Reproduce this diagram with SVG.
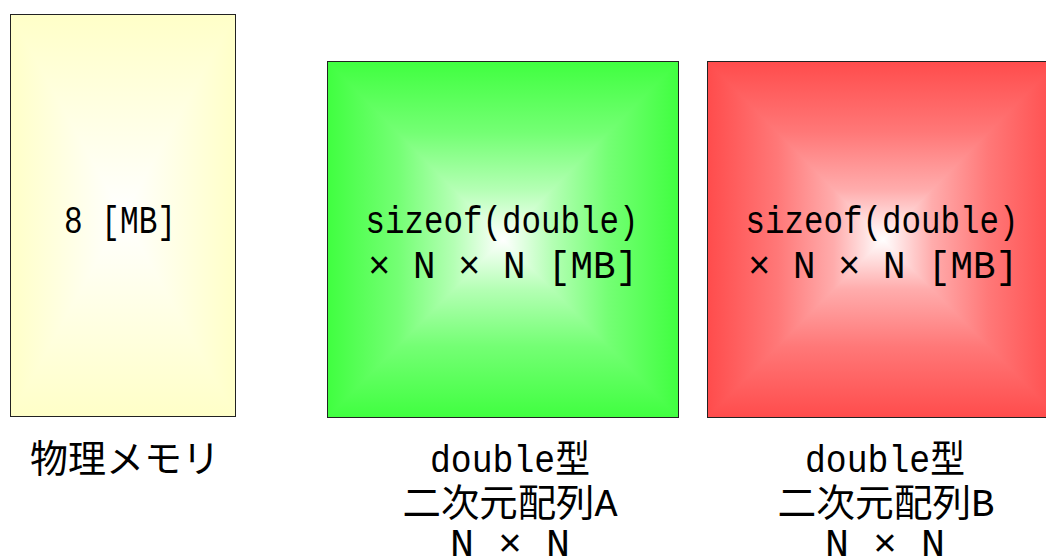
<svg xmlns="http://www.w3.org/2000/svg" width="1046" height="558" viewBox="0 0 1046 558">
<style>
text{font-family:"Liberation Mono","Noto Sans CJK JP",monospace;font-size:38px;fill:#000;text-anchor:middle}
.box{stroke:#222;stroke-width:1}
</style>
<defs>
<linearGradient id="yV" x1="0" y1="0" x2="0" y2="1"><stop offset="0" stop-color="#ffffc8"/><stop offset="0.5" stop-color="#ffffff"/><stop offset="1" stop-color="#ffffc8"/></linearGradient>
<linearGradient id="yH" x1="0" y1="0" x2="1" y2="0"><stop offset="0" stop-color="#ffffc8"/><stop offset="0.5" stop-color="#ffffff"/><stop offset="1" stop-color="#ffffc8"/></linearGradient>
<linearGradient id="gV" x1="0" y1="0" x2="0" y2="1"><stop offset="0" stop-color="#40ff40"/><stop offset="0.2" stop-color="#74ff74"/><stop offset="0.36" stop-color="#b4ffb4"/><stop offset="0.5" stop-color="#ffffff"/><stop offset="0.64" stop-color="#b4ffb4"/><stop offset="0.8" stop-color="#74ff74"/><stop offset="1" stop-color="#40ff40"/></linearGradient>
<linearGradient id="gH" x1="0" y1="0" x2="1" y2="0"><stop offset="0" stop-color="#40ff40"/><stop offset="0.2" stop-color="#74ff74"/><stop offset="0.36" stop-color="#b4ffb4"/><stop offset="0.5" stop-color="#ffffff"/><stop offset="0.64" stop-color="#b4ffb4"/><stop offset="0.8" stop-color="#74ff74"/><stop offset="1" stop-color="#40ff40"/></linearGradient>
<linearGradient id="rV" x1="0" y1="0" x2="0" y2="1"><stop offset="0" stop-color="#ff4c4c"/><stop offset="0.2" stop-color="#ff7878"/><stop offset="0.36" stop-color="#ffacac"/><stop offset="0.5" stop-color="#ffffff"/><stop offset="0.64" stop-color="#ffacac"/><stop offset="0.8" stop-color="#ff7878"/><stop offset="1" stop-color="#ff4c4c"/></linearGradient>
<linearGradient id="rH" x1="0" y1="0" x2="1" y2="0"><stop offset="0" stop-color="#ff4c4c"/><stop offset="0.2" stop-color="#ff7878"/><stop offset="0.36" stop-color="#ffacac"/><stop offset="0.5" stop-color="#ffffff"/><stop offset="0.64" stop-color="#ffacac"/><stop offset="0.8" stop-color="#ff7878"/><stop offset="1" stop-color="#ff4c4c"/></linearGradient>
</defs>
<rect width="1046" height="558" fill="#ffffff"/>
<g id="memory">
<rect x="10.5" y="14.5" width="225" height="402" fill="url(#yV)"/>
<path d="M10.5,14.5 L123,215.5 L10.5,416.5 Z M235.5,14.5 L123,215.5 L235.5,416.5 Z" fill="url(#yH)"/>
<rect class="box" x="10.5" y="14.5" width="225" height="402" fill="none"/>
<text x="120" y="233" textLength="112" lengthAdjust="spacingAndGlyphs">8 [MB]</text>
<text x="125" y="472">物理メモリ</text>
</g>
<g id="arrayA">
<rect x="327.5" y="61.5" width="351" height="356" fill="url(#gV)"/>
<path d="M327.5,61.5 L503,239.5 L327.5,417.5 Z M678.5,61.5 L503,239.5 L678.5,417.5 Z" fill="url(#gH)"/>
<rect class="box" x="327.5" y="61.5" width="351" height="356" fill="none"/>
<text x="502" y="233" textLength="273" lengthAdjust="spacingAndGlyphs">sizeof(double)</text>
<text x="503" y="278" textLength="270" lengthAdjust="spacingAndGlyphs">× N × N [MB]</text>
<text x="510" y="472" textLength="160" lengthAdjust="spacingAndGlyphs">double型</text>
<text x="510" y="516" textLength="215" lengthAdjust="spacingAndGlyphs">二次元配列A</text>
<text x="510" y="556" textLength="120" lengthAdjust="spacingAndGlyphs">N × N</text>
</g>
<g id="arrayB">
<rect x="707.5" y="61.5" width="351" height="356" fill="url(#rV)"/>
<path d="M707.5,61.5 L883,239.5 L707.5,417.5 Z M1058.5,61.5 L883,239.5 L1058.5,417.5 Z" fill="url(#rH)"/>
<rect class="box" x="707.5" y="61.5" width="351" height="356" fill="none"/>
<text x="882" y="233" textLength="273" lengthAdjust="spacingAndGlyphs">sizeof(double)</text>
<text x="883" y="278" textLength="270" lengthAdjust="spacingAndGlyphs">× N × N [MB]</text>
<text x="885" y="472" textLength="160" lengthAdjust="spacingAndGlyphs">double型</text>
<text x="886" y="516" textLength="217" lengthAdjust="spacingAndGlyphs">二次元配列B</text>
<text x="885" y="556" textLength="120" lengthAdjust="spacingAndGlyphs">N × N</text>
</g>
<g id="connectors"/>
</svg>
